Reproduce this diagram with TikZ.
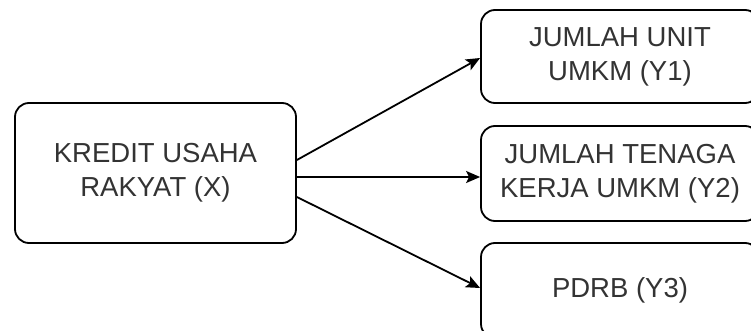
\documentclass[tikz,border=0pt]{standalone}
\usepackage{fontspec}
\setmainfont{Liberation Sans}
\usetikzlibrary{arrows.meta}
\definecolor{txt}{HTML}{333333}
\begin{document}
\begin{tikzpicture}[x=1pt,y=-1pt,
  box/.style={draw=black,line width=1.8pt,rounded corners=14pt,fill=white,
    text=txt,align=center,inner sep=0pt,
    font=\fontsize{27.5}{34}\selectfont},
  conn/.style={line width=1.8pt,-{Stealth[length=14pt,width=12pt,inset=3pt]}}]
\useasboundingbox (0,0) rectangle (751,331);
\node[box,minimum width=281pt,minimum height=140pt] (x) at (155.5,173) {KREDIT USAHA\\RAKYAT (X)};
\node[box,minimum width=278pt,minimum height=93pt] (y1) at (620,56.5) {JUMLAH UNIT\\UMKM (Y1)};
\node[box,minimum width=278pt,minimum height=95pt] (y2) at (620,173.5) {JUMLAH TENAGA\\KERJA UMKM (Y2)};
\node[box,minimum width=278pt,minimum height=95pt] (y3) at (620,290.5) {PDRB (Y3)};
\draw[conn] ([yshift=13pt]x.east) -- ([yshift=-1.5pt]y1.west);
\draw[conn] ([yshift=-4pt]x.east) -- ([yshift=-3.5pt]y2.west);
\draw[conn] ([yshift=-24pt]x.east) -- ([yshift=2.5pt]y3.west);
\end{tikzpicture}
\end{document}
